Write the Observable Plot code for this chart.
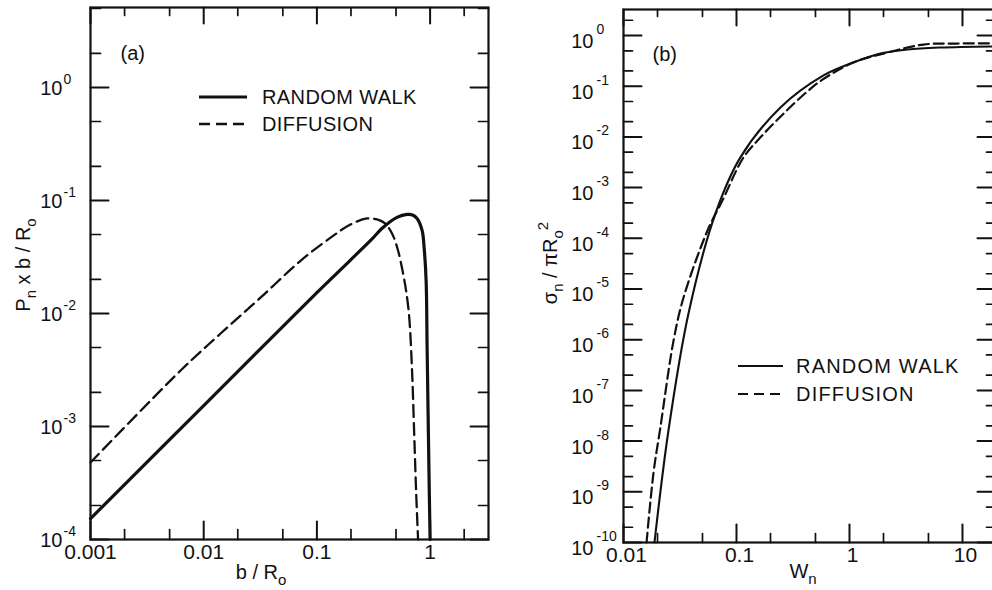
<!DOCTYPE html>
<html><head><meta charset="utf-8">
<script src="https://cdn.jsdelivr.net/npm/d3@7"></script>
<script src="https://cdn.jsdelivr.net/npm/@observablehq/plot@0.6"></script>
<style>
html,body{margin:0;padding:0;background:#fff;overflow:hidden;}
#chart{position:relative;width:992px;height:590px;overflow:hidden;background:#fff;}
#chart svg{position:absolute;top:0;}
</style></head><body><div id="chart"></div>
<script>
// ---------- Panel (a) data ----------
const rwA_b = [0.001, 0.01, 0.1, 0.196, 0.298, 0.384, 0.51, 0.626, 0.70, 0.767, 0.85, 0.885, 0.922, 0.941, 0.96, 0.98, 1.0];
const rwA_p = [1.53e-4, 1.53e-3, 0.0153, 0.0294, 0.0443, 0.0577, 0.0708, 0.0752, 0.0745, 0.0693, 0.0543, 0.0384, 0.0196, 5.0e-3, 1.3e-3, 3.3e-4, 1.0e-4];
const diffA_b = [0.001, 0.00625, 0.0141, 0.0319, 0.0721, 0.133, 0.196, 0.277, 0.34, 0.40, 0.461, 0.521, 0.577, 0.613, 0.652, 0.693, 0.722, 0.752, 0.783];
const diffA_p = [4.8e-4, 3.13e-3, 6.65e-3, 0.01386, 0.0294, 0.0471, 0.061, 0.0693, 0.0679, 0.0626, 0.051, 0.0361, 0.0226, 0.016, 9.6e-3, 3.1e-3, 9.2e-4, 2.7e-4, 1.0e-4];
const aMajorX = [0.001, 0.01, 0.1, 1];
const aMinorX = [0.002, 0.005, 0.02, 0.05, 0.2, 0.5, 2];
const aMajorY = [1e-4, 1e-3, 1e-2, 1e-1, 1];
const aMinorY = [2e-4, 5e-4, 2e-3, 5e-3, 0.02, 0.05, 0.2, 0.5, 2, 5];
const aXLabels = ["0.001", "0.01", "0.1", "1"];
const aYExp = ["-4", "-3", "-2", "-1", "0"];

// ---------- Panel (b) data ----------
const rwB_w = [0.0188, 0.0250, 0.0376, 0.0652, 0.108, 0.245, 0.589, 1.08, 1.88, 3.26, 6.4, 19.6];
const rwB_s = [1e-10, 1.62e-8, 3.3e-6, 3.1e-4, 3.9e-3, 0.038, 0.163, 0.293, 0.44, 0.53, 0.58, 0.61];
const diffB_w = [0.0160, 0.0184, 0.0212, 0.0277, 0.0340, 0.0553, 0.0752, 0.115, 0.163, 0.261, 0.425, 0.577, 1.08, 2.17, 4.52, 9.04, 19.5];
const diffB_s = [1e-10, 2.3e-9, 1.86e-8, 9.5e-7, 6.8e-6, 1.41e-4, 5.6e-4, 3.9e-3, 9.8e-3, 0.0288, 0.0794, 0.135, 0.293, 0.462, 0.664, 0.695, 0.70];
const bMajorX = [0.01, 0.1, 1, 10];
const bMinorX = [0.02, 0.05, 0.2, 0.5, 2, 5];
const bMajorY = [1e-10, 1e-9, 1e-8, 1e-7, 1e-6, 1e-5, 1e-4, 1e-3, 1e-2, 1e-1, 1];
const bMinorY = [2e-10,5e-10,2e-9,5e-9,2e-8,5e-8,2e-7,5e-7,2e-6,5e-6,2e-5,5e-5,2e-4,5e-4,2e-3,5e-3,0.02,0.05,0.2,0.5,2];
const bXLabels = ["0.01", "0.1", "1", "10"];
const bYExp = ["-10","-9","-8","-7","-6","-5","-4","-3","-2","-1","0"];

const seriesNames = ["RANDOM WALK", "DIFFUSION"];

const FONT = "'Liberation Sans', Arial, sans-serif";
const INK = "#111";

// inward frame ticks: two-point segments whose ends come from the log scales' extents
function frameTicks(cfg, majors, minors, axis, majLen, minLen) {
  const [xlo, xhi] = cfg.xd, [ylo, yhi] = cfg.yd;
  const ppdX = cfg.iw / (Math.log10(xhi) - Math.log10(xlo));
  const ppdY = cfg.ih / (Math.log10(yhi) - Math.log10(ylo));
  const fy = len => Math.pow(10, len / ppdY), fx = len => Math.pow(10, len / ppdX);
  const segs = (arr, len) => {
    const out = [];
    arr.forEach((v, i) => {
      if (axis === "x") {
        out.push({x: v, y: ylo, k: "b" + i}, {x: v, y: ylo * fy(len), k: "b" + i});
        out.push({x: v, y: yhi / fy(len - 2), k: "t" + i}, {x: v, y: yhi, k: "t" + i});
      } else {
        out.push({x: xlo, y: v, k: "l" + i}, {x: xlo * fx(len), y: v, k: "l" + i});
        out.push({x: xhi / fx(len), y: v, k: "r" + i}, {x: xhi, y: v, k: "r" + i});
      }
    });
    return out;
  };
  return [
    Plot.line(segs(majors, majLen), {x: "x", y: "y", z: "k", stroke: INK, strokeWidth: 2}),
    Plot.line(segs(minors, minLen), {x: "x", y: "y", z: "k", stroke: INK, strokeWidth: 1.7})
  ];
}

function panel(cfg, marks) {
  return Plot.plot({
    width: cfg.width, height: cfg.height,
    marginLeft: cfg.ml, marginRight: cfg.mr, marginTop: cfg.mt, marginBottom: cfg.mb,
    x: {type: "log", domain: cfg.xd, axis: null},
    y: {type: "log", domain: cfg.yd, axis: null},
    style: {fontFamily: FONT, background: "transparent", color: INK, overflow: "visible"},
    marks
  });
}

// ---------- Panel (a) ----------
const rwA = rwA_b.map((b, i) => ({b, p: rwA_p[i]}));
const diffA = diffA_b.map((b, i) => ({b, p: diffA_p[i]}));
const A = {width: 500, height: 590, ml: 90, mr: 12, mt: 7, mb: 51, xd: [0.001, 3.28], yd: [1e-4, 5.1]};
A.iw = A.width - A.ml - A.mr; A.ih = A.height - A.mt - A.mb;

const dataA = panel(A, [
  Plot.line(diffA, {x: "b", y: "p", stroke: INK, strokeWidth: 2.3, strokeDasharray: "12,6", curve: "catmull-rom"}),
  Plot.line(rwA, {x: "b", y: "p", stroke: INK, strokeWidth: 3.2, curve: "catmull-rom"}),
  Plot.text(aMajorX, {x: d => d, text: (d, i) => aXLabels[i], frameAnchor: "bottom", dy: 19, fontSize: 21, fill: INK}),
  Plot.text(aMajorY, {y: d => d, text: () => "10", frameAnchor: "left", textAnchor: "end", dx: -28, dy: 1, fontSize: 20, fill: INK}),
  Plot.text(aMajorY, {y: d => d, text: (d, i) => aYExp[i], frameAnchor: "left", textAnchor: "start", dx: -27, dy: -8, fontSize: 14, fill: INK}),
  Plot.text(["(a)"], {text: d => d, frameAnchor: "top-left", dx: 30, dy: 38, textAnchor: "start", fontSize: 20, fill: INK})
]);
const axesA = panel(A, [
  ...frameTicks(A, aMajorX, aMinorX, "x", 18, 10),
  ...frameTicks(A, aMajorY, aMinorY, "y", 18, 10),
  Plot.frame({stroke: INK, strokeWidth: 2.2})
]);
dataA.style.left = "0px";
axesA.style.left = "0px";

// ---------- Panel (b) ----------
const rwB = rwB_w.map((w, i) => ({w, s: rwB_s[i]}));
const diffB = diffB_w.map((w, i) => ({w, s: diffB_s[i]}));
const B = {width: 500, height: 590, ml: 123, mr: 5, mt: 9, mb: 48, xd: [0.01, 19.6], yd: [1e-10, 3.26]};
B.iw = B.width - B.ml - B.mr; B.ih = B.height - B.mt - B.mb;

const dataB = panel(B, [
  Plot.line(diffB, {x: "w", y: "s", stroke: INK, strokeWidth: 2.2, strokeDasharray: "10,5", curve: "catmull-rom"}),
  Plot.line(rwB, {x: "w", y: "s", stroke: INK, strokeWidth: 2.1, curve: "catmull-rom"}),
  Plot.text(bMajorX, {x: d => d, text: (d, i) => bXLabels[i], frameAnchor: "bottom", dy: 19, dx: 3, fontSize: 21, fill: INK}),
  Plot.text(bMajorY, {y: d => d, text: () => "10", frameAnchor: "left", textAnchor: "end", dx: -30, dy: 6, fontSize: 20, fill: INK}),
  Plot.text(bMajorY, {y: d => d, text: (d, i) => bYExp[i], frameAnchor: "left", textAnchor: "start", dx: -27, dy: -6, fontSize: 14, fill: INK}),
  Plot.text(["(b)"], {text: d => d, frameAnchor: "top-left", dx: 29, dy: 37, textAnchor: "start", fontSize: 20, fill: INK})
]);
const axesB = panel(B, [
  ...frameTicks(B, bMajorX, bMinorX, "x", 18, 9),
  ...frameTicks(B, bMajorY, bMinorY, "y", 18, 9),
  Plot.frame({stroke: INK, strokeWidth: 2.2})
]);
dataB.style.left = "500px";
axesB.style.left = "500px";

const chart = document.getElementById("chart");
chart.appendChild(dataA);
chart.appendChild(dataB);
chart.appendChild(axesA);
chart.appendChild(axesB);

// ---------- axis titles with sub/superscripts ----------
function richText(sel, parts) {
  let shift = 0;
  parts.forEach(([t, kind]) => {
    const target = kind === "sub" ? 6 : kind === "sup" ? -9 : 0;
    const ts = sel.append("tspan").text(t).attr("dy", target - shift);
    if (kind !== "n") ts.attr("font-size", 15);
    shift = target;
  });
}
const sa = d3.select(dataA);
const sb = d3.select(dataB);
const title = (sel) => sel.append("text").attr("text-anchor", "middle")
  .attr("font-size", 20).attr("fill", INK).attr("font-family", FONT);

richText(title(sa).attr("x", 261).attr("y", 579), [["b / R", "n"], ["o", "sub"]]);
richText(title(sa).attr("transform", "translate(30,265) rotate(-90)"),
  [["P", "n"], ["n", "sub"], [" x b / R", "n"], ["o", "sub"]]);
richText(title(sb).attr("x", 303).attr("y", 578), [["W", "n"], ["n", "sub"]]);
richText(title(sb).attr("transform", "translate(57,263) rotate(-90)"),
  [["σ", "n"], ["n", "sub"], [" / πR", "n"], ["o", "sub"], ["2", "sup"]]);

// ---------- legends ----------
function legend(sel, x0, x1, xt, y0, y1, widths, dash, ls) {
  sel.append("line").attr("x1", x0).attr("x2", x1).attr("y1", y0).attr("y2", y0)
    .attr("stroke", INK).attr("stroke-width", widths[0]);
  sel.append("line").attr("x1", x0).attr("x2", x1).attr("y1", y1).attr("y2", y1)
    .attr("stroke", INK).attr("stroke-width", widths[1]).attr("stroke-dasharray", dash);
  [y0, y1].forEach((y, i) => sel.append("text").attr("x", xt).attr("y", y).attr("dy", "0.36em")
    .attr("text-anchor", "start").attr("font-size", 20).attr("letter-spacing", ls)
    .attr("fill", INK).attr("font-family", FONT).text(seriesNames[i]));
}
legend(sa, 199, 247, 262, 97, 124, [3, 2.3], "11,6", 0.4);
legend(sb, 238, 283, 296, 366, 394, [2, 2.2], "10,6", 1.2);
</script></body></html>
